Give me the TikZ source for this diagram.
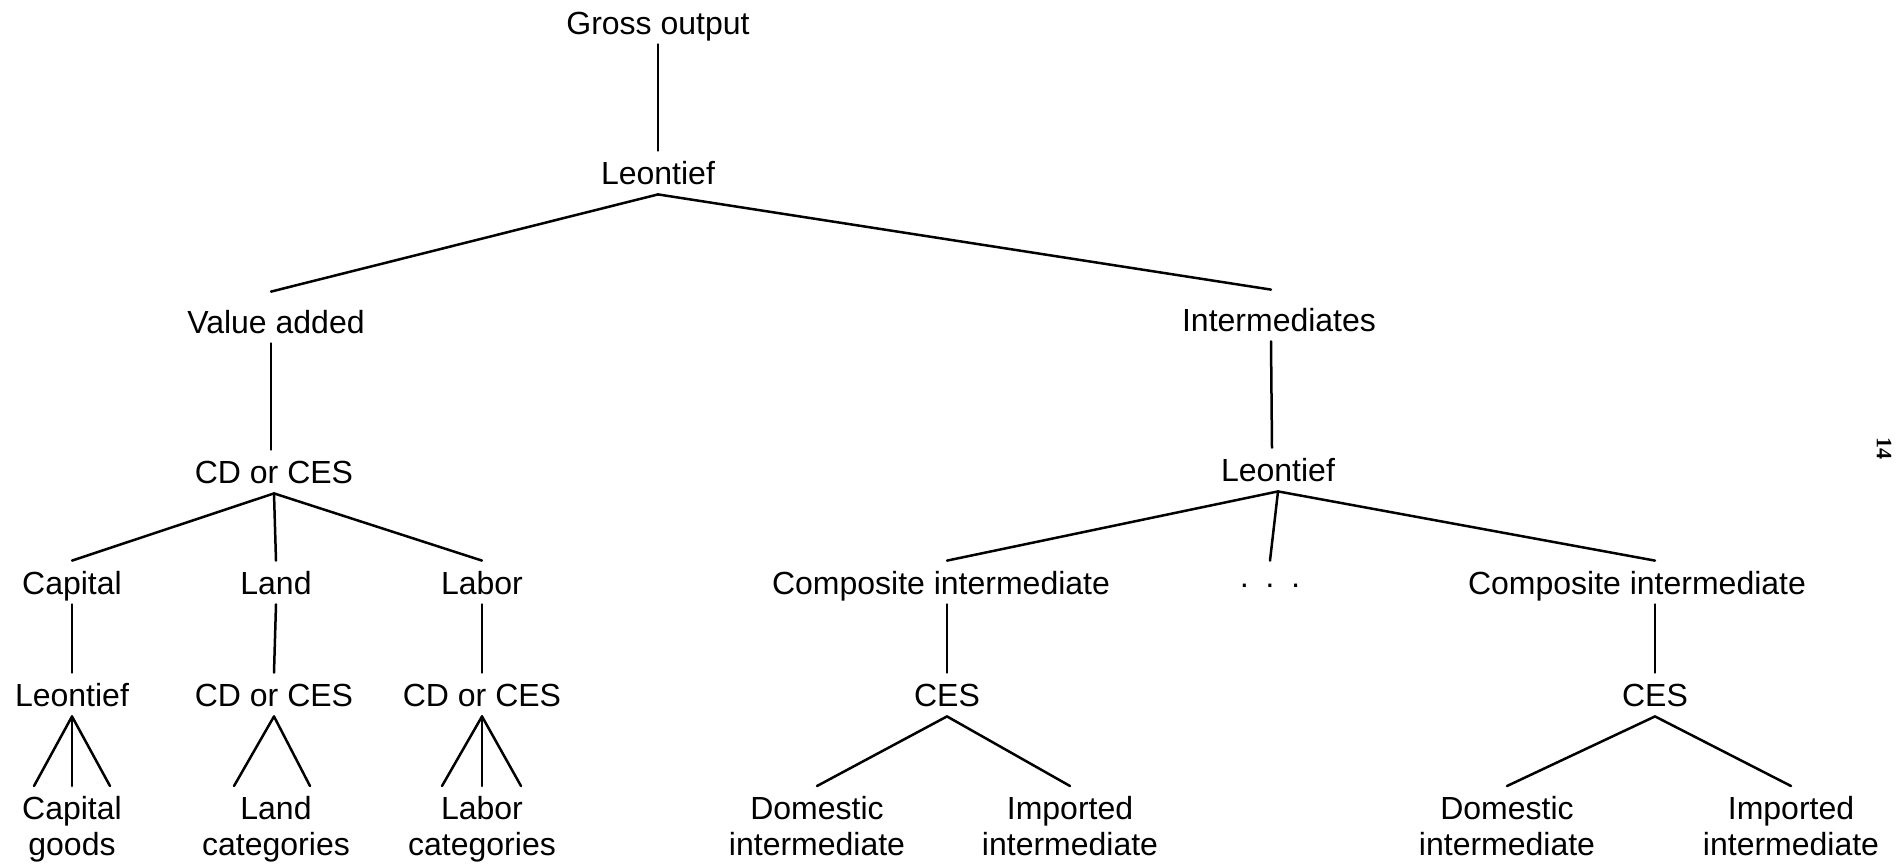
\documentclass[tikz,border=0pt]{standalone}
\usepackage{fontspec}
\setmainfont{Liberation Sans}
\newfontfamily\pgnumfont{Liberation Serif}
\usetikzlibrary{calc}
\begin{document}
\begin{tikzpicture}[x=0.5pt,y=-0.5pt,
  lbl/.style={font=\fontsize{16pt}{18pt}\selectfont, text height=11.5pt, text depth=0pt, inner xsep=0pt, inner ysep=5pt, anchor=base},
  leaf/.style={font=\fontsize{16pt}{18pt}\selectfont, align=center, inner xsep=0pt, inner ysep=5pt, anchor=north},
  conn/.style={line width=1.25pt, line cap=round}]
\useasboundingbox (0,0) rectangle (1897,864);

% top levels
\node[lbl] (go) at (658,34) {Gross output};
\node[lbl] (l1) at (658,184) {Leontief};
\node[lbl] (va) at (276,333) {Value added};
\node[lbl] (im) at (1279,331) {Intermediates};
\node[lbl] (cd) at (274,483) {CD or CES};
\node[lbl] (l2) at (1278,481) {Leontief};

% level 4
\node[lbl] (cap) at (72,594) {Capital};
\node[lbl] (land) at (276,594) {Land};
\node[lbl] (lab) at (482,594) {Labor};
\node[lbl] (ci1) at (941,594) {Composite intermediate};
\node[lbl] (dots) at (1270,594) {·\hspace{7.5pt}·\hspace{7.5pt}·};
\node[lbl] (ci2) at (1637,594) {Composite intermediate};

% level 5
\node[lbl] (l5a) at (72,706) {Leontief};
\node[lbl] (l5b) at (274,706) {CD or CES};
\node[lbl] (l5c) at (482,706) {CD or CES};
\node[lbl] (ces1) at (947,706) {CES};
\node[lbl] (ces2) at (1655,706) {CES};

% leaves
\node[leaf] (cg) at (72,786) {Capital\\goods};
\node[leaf] (lc) at (276,786) {Land\\categories};
\node[leaf] (bc) at (482,786) {Labor\\categories};
\node[leaf] (d1) at (817,786) {Domestic\\intermediate};
\node[leaf] (i1) at (1070,786) {Imported\\intermediate};
\node[leaf] (d2) at (1507,786) {Domestic\\intermediate};
\node[leaf] (i2) at (1791,786) {Imported\\intermediate};

% page number
\node[font=\pgnumfont\bfseries\fontsize{11pt}{12pt}\selectfont, rotate=-90, inner sep=0pt] (pg) at (1884,448) {14};

% connectors
\draw[conn] (go.south) -- (l1.north);
\draw[conn] (l1.south) -- ($(va.north)+(-5,-8)$);
\draw[conn] (l1.south) -- ($(im.north)+(-8,-8)$);
\draw[conn] ($(va.south)+(-5,0)$) -- ($(cd.north)+(-3,0)$);
\draw[conn] ($(im.south)+(-8,0)$) -- ($(l2.north)+(-6,0)$);

\draw[conn] (cd.south) -- (cap.north);
\draw[conn] (cd.south) -- (land.north);
\draw[conn] (cd.south) -- (lab.north);

\draw[conn] (l2.south) -- (ces1 |- ci1.north);
\draw[conn] (l2.south) -- (dots.north);
\draw[conn] (l2.south) -- (ces2 |- ci2.north);

\draw[conn] (cap.south) -- (l5a.north);
\draw[conn] (land.south) -- (l5b.north);
\draw[conn] (lab.south) -- (l5c.north);
\draw[conn] (ces1 |- ci1.south) -- (ces1.north);
\draw[conn] (ces2 |- ci2.south) -- (ces2.north);

\draw[conn] (l5a.south) -- ($(cg.north)+(-38,0)$);
\draw[conn] (l5a.south) -- (cg.north);
\draw[conn] (l5a.south) -- ($(cg.north)+(38,0)$);

\draw[conn] (l5b.south) -- ($(lc.north)+(-42,0)$);
\draw[conn] (l5b.south) -- ($(lc.north)+(34,0)$);

\draw[conn] (l5c.south) -- ($(bc.north)+(-40,0)$);
\draw[conn] (l5c.south) -- (bc.north);
\draw[conn] (l5c.south) -- ($(bc.north)+(39,0)$);

\draw[conn] (ces1.south) -- (d1.north);
\draw[conn] (ces1.south) -- (i1.north);
\draw[conn] (ces2.south) -- (d2.north);
\draw[conn] (ces2.south) -- (i2.north);
\end{tikzpicture}
\end{document}
